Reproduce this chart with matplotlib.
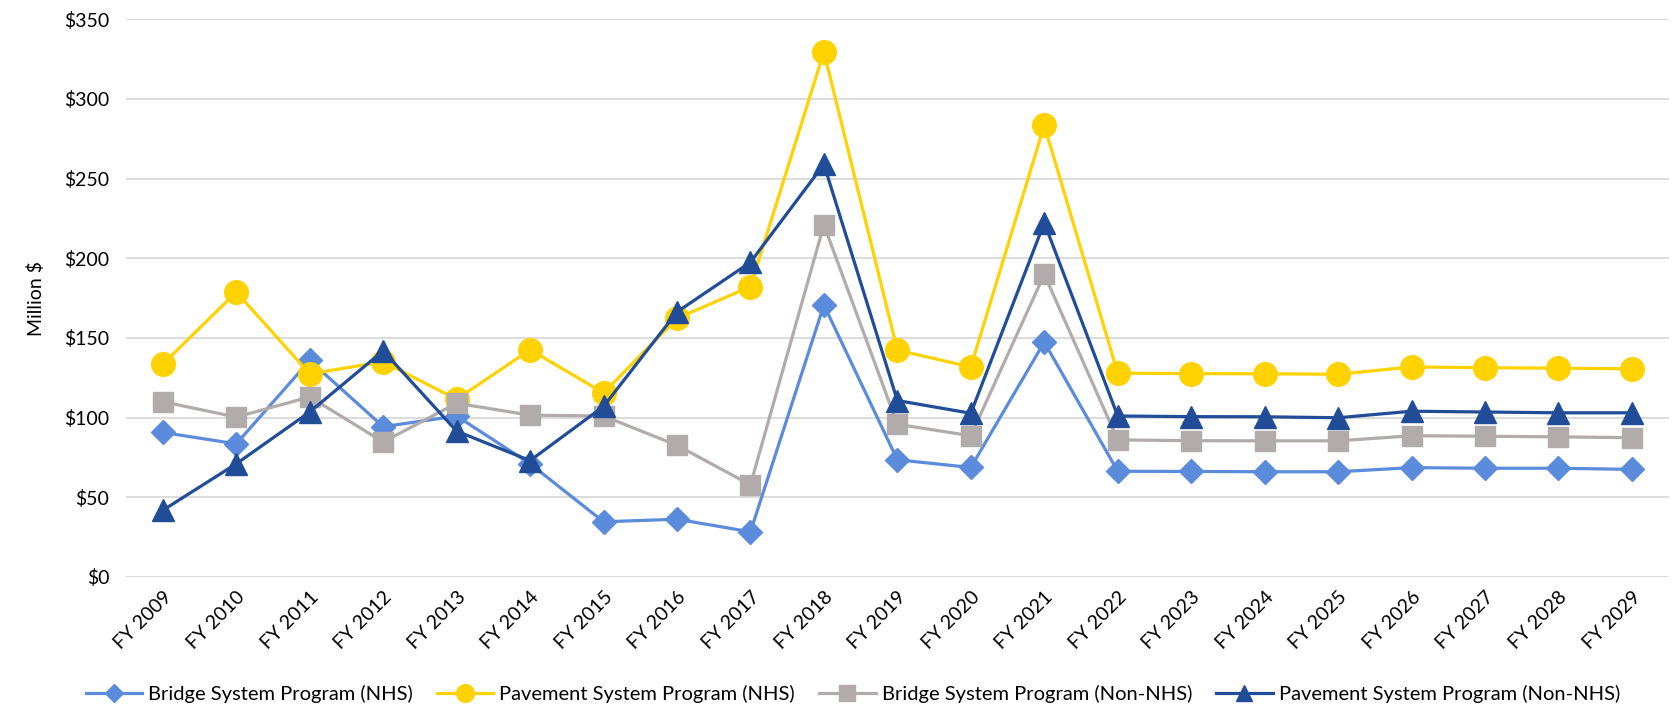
import numpy as np
import matplotlib
matplotlib.use('Agg')
from matplotlib import pyplot as plt

plt.rcParams['font.family'] = ['Lato', 'DejaVu Sans']

years = ['FY 2009', 'FY 2010', 'FY 2011', 'FY 2012', 'FY 2013', 'FY 2014', 'FY 2015',
         'FY 2016', 'FY 2017', 'FY 2018', 'FY 2019', 'FY 2020', 'FY 2021', 'FY 2022',
         'FY 2023', 'FY 2024', 'FY 2025', 'FY 2026', 'FY 2027', 'FY 2028', 'FY 2029']

bridge_nhs = [90.7, 83.5, 135.9, 94.3, 101.0, 71.0, 34.6, 36.2, 28.3, 170.7, 73.5,
              68.7, 147.4, 66.3, 66.2, 66.0, 66.0, 68.6, 68.2, 68.2, 67.5]
pavement_nhs = [133.5, 178.8, 127.5, 135.0, 111.5, 142.6, 115.5, 162.3, 182.2, 329.6, 142.3,
                131.8, 283.5, 127.9, 127.6, 127.5, 127.2, 131.8, 131.3, 131.0, 130.6]
bridge_non = [110.0, 100.3, 113.0, 84.7, 109.0, 101.5, 101.0, 82.6, 57.8, 221.0, 95.8,
              88.6, 189.9, 86.0, 85.5, 85.4, 85.4, 88.6, 88.3, 87.9, 87.4]
pavement_non = [41.8, 71.0, 103.5, 141.9, 91.5, 73.0, 107.0, 166.3, 197.5, 259.0, 110.7,
                102.7, 222.3, 101.0, 100.6, 100.5, 99.9, 104.0, 103.5, 103.0, 103.0]

series = [
    ('Bridge System Program (NHS)', bridge_nhs, '#5B8BDB', 'D', 12),
    ('Pavement System Program (NHS)', pavement_nhs, '#FFD200', 'o', 17),
    ('Bridge System Program (Non-NHS)', bridge_non, '#B1ABAB', 's', 15),
    ('Pavement System Program (Non-NHS)', pavement_non, '#214C97', '^', 16),
]

fig = plt.figure(figsize=(16.72, 7.14), dpi=100)
ax = fig.add_axes([0.0754, 0.192, 0.9226, 0.781])

x = np.arange(len(years))
for label, vals, col, mk, ms in series:
    ax.plot(x, vals, color=col, lw=2.3, marker=mk, markersize=ms, label=label)

ax.set_xlim(-0.5, len(years) - 0.5)
ax.set_ylim(0, 350)
ax.set_yticks(np.arange(0, 351, 50))
ax.set_yticklabels(['$%d' % v for v in range(0, 351, 50)], fontsize=14)
ax.set_xticks(x)
ax.set_xticklabels(years, rotation=45, ha='right', rotation_mode='anchor', fontsize=14)
ax.tick_params(length=0, pad=8)
ax.tick_params(axis='y', pad=12)
ax.grid(axis='y', color='#D9D9D9', lw=1.3)
ax.set_axisbelow(True)
for s in ax.spines.values():
    s.set_visible(False)
ax.set_ylabel('Million $', fontsize=14, labelpad=14)

fig.legend(loc='center', bbox_to_anchor=(0.51, 0.028), ncol=4, frameon=False,
           fontsize=14.5, handlelength=2.8, columnspacing=1.2, handletextpad=0.3,
           markerscale=0.75)

fig.savefig('out.png', dpi=100)
